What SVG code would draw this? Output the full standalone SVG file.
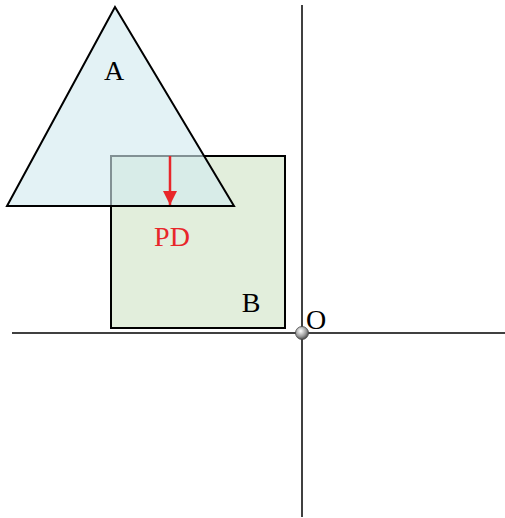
<svg xmlns="http://www.w3.org/2000/svg" width="505" height="518" viewBox="0 0 505 518">
<style>
.lbl{font-family:"Liberation Serif","Times New Roman",serif;font-size:28px;fill:#000;text-anchor:middle}
.red{fill:#e8262a}
.axis{stroke:#000;stroke-width:1.5}
</style>
<defs>
<radialGradient id="ball" cx="0.4" cy="0.35" r="0.7">
<stop offset="0" stop-color="#ffffff"/>
<stop offset="0.6" stop-color="#9a9a9a"/>
<stop offset="1" stop-color="#3a3a3a"/>
</radialGradient>
<marker id="ah" markerWidth="14" markerHeight="14" refX="14" refY="7" orient="auto" markerUnits="userSpaceOnUse">
<path d="M0,0 L14,7 L0,14 Z" fill="#e8262a"/>
</marker>
</defs>
<g id="axes">
<line class="axis" x1="12" y1="333" x2="505" y2="333"/>
<line class="axis" x1="302" y1="5" x2="302" y2="517"/>
</g>
<g id="B">
<rect x="111" y="156" width="174" height="172" fill="#e2eedc" stroke="#000" stroke-width="2"/>
<text class="lbl" x="251" y="312">B</text>
</g>
<g id="A">
<polygon points="115,7 7,206 234,206" fill="#d2eaef" fill-opacity="0.62" stroke="#000" stroke-width="2" stroke-linejoin="miter"/>
<text class="lbl" x="114" y="80">A</text>
</g>
<g id="connectors">
<line x1="170" y1="156" x2="170" y2="205" stroke="#e8262a" stroke-width="2.5" marker-end="url(#ah)"/>
</g>
<g id="PD">
<text class="lbl red" x="172" y="246">PD</text>
</g>
<g id="O">
<circle cx="302" cy="333" r="6.5" fill="url(#ball)" stroke="#444" stroke-width="0.8"/>
<text class="lbl" x="316" y="329">O</text>
</g>
</svg>
